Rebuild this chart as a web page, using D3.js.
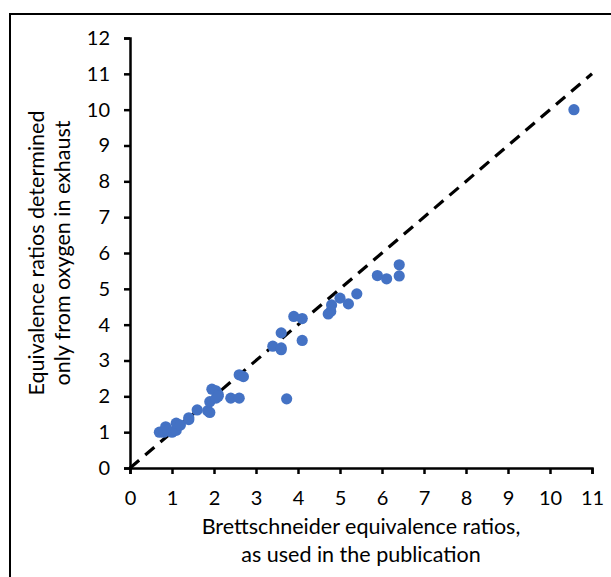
<!DOCTYPE html>
<html><head><meta charset="utf-8">
<script src="https://cdn.jsdelivr.net/npm/d3@7"></script>
<style>body{margin:0;background:#fff}svg{display:block}text{font-family:Lato,"Open Sans",sans-serif;fill:#000}</style>
</head><body>
<svg id="c" width="611" height="577"></svg>
<script>
const xVals = [0.7,0.8,0.85,0.9,1.0,1.1,1.1,1.2,1.4,1.4,1.6,1.85,1.9,1.9,1.95,2.05,2.1,2.05,2.1,2.4,2.6,2.6,2.7,
  3.4,3.6,3.6,3.6,3.9,4.1,4.1,3.73,4.72,4.78,4.8,5.0,5.2,5.4,5.89,6.11,6.41,6.41,10.57];
const yVals = [1.0,1.0,1.15,1.05,1.0,1.05,1.25,1.2,1.35,1.4,1.62,1.6,1.55,1.85,2.2,2.15,2.05,1.95,2.0,1.95,1.95,2.6,2.55,
  3.4,3.3,3.35,3.77,4.23,4.17,3.56,1.93,4.3,4.37,4.55,4.74,4.58,4.86,5.37,5.28,5.36,5.67,10.0];
const xTicks = [0,1,2,3,4,5,6,7,8,9,10,11];
const yTicks = [0,1,2,3,4,5,6,7,8,9,10,11,12];
const xTitle = ["Brettschneider equivalence ratios,", "as used in the publication"];
const yTitle = ["Equivalence ratios determined", "only from oxygen in exhaust"];
const refLine = [[0,0],[11,11]];

const svg = d3.select("#c");
svg.append("rect").attr("x",10).attr("y",14).attr("width",620).attr("height",580)
  .attr("fill","none").attr("stroke","#000").attr("stroke-width",2);

const x = d3.scaleLinear().domain([0,11]).range([130,592]);
const y = d3.scaleLinear().domain([0,12]).range([468,38]);

const fsTick = 20, fsTitle = 21.5;
const xAxis = svg.append("g").attr("transform","translate(0,468)")
  .call(d3.axisBottom(x).tickValues(xTicks).tickSize(6).tickPadding(16).tickFormat(d3.format("d")));
const yAxis = svg.append("g").attr("transform","translate(130,0)")
  .call(d3.axisLeft(y).tickValues(yTicks).tickSize(6).tickPadding(14).tickFormat(d3.format("d")));
[xAxis,yAxis].forEach(g=>{
  g.select(".domain").attr("stroke","#000").attr("stroke-width",2.5);
  g.selectAll(".tick line").attr("stroke","#000").attr("stroke-width",2.5);
  g.selectAll(".tick text").style("font-family","Lato").attr("font-size",fsTick).attr("fill","#000");
});
xAxis.selectAll(".tick text").attr("dy","0.75em");

svg.append("path").datum(refLine)
  .attr("d", d3.line().x(d=>x(d[0])).y(d=>y(d[1])))
  .attr("stroke","#000").attr("stroke-width",3.2).attr("stroke-dasharray","12,8").attr("fill","none");

svg.append("g").selectAll("circle").data(xVals.map((v,i)=>[v,yVals[i]])).join("circle")
  .attr("cx",d=>x(d[0])).attr("cy",d=>y(d[1])).attr("r",5.6).attr("fill","#4472C4");

svg.append("g").selectAll("text").data(xTitle).join("text")
  .attr("x",361).attr("y",(d,i)=>534+i*28).attr("text-anchor","middle").attr("font-size",fsTitle).text(d=>d);
svg.append("g").selectAll("text").data(yTitle).join("text")
  .attr("transform",(d,i)=>`translate(${44+i*26},253) rotate(-90)`).attr("text-anchor","middle").attr("font-size",fsTitle).text(d=>d);
</script>
</body></html>
